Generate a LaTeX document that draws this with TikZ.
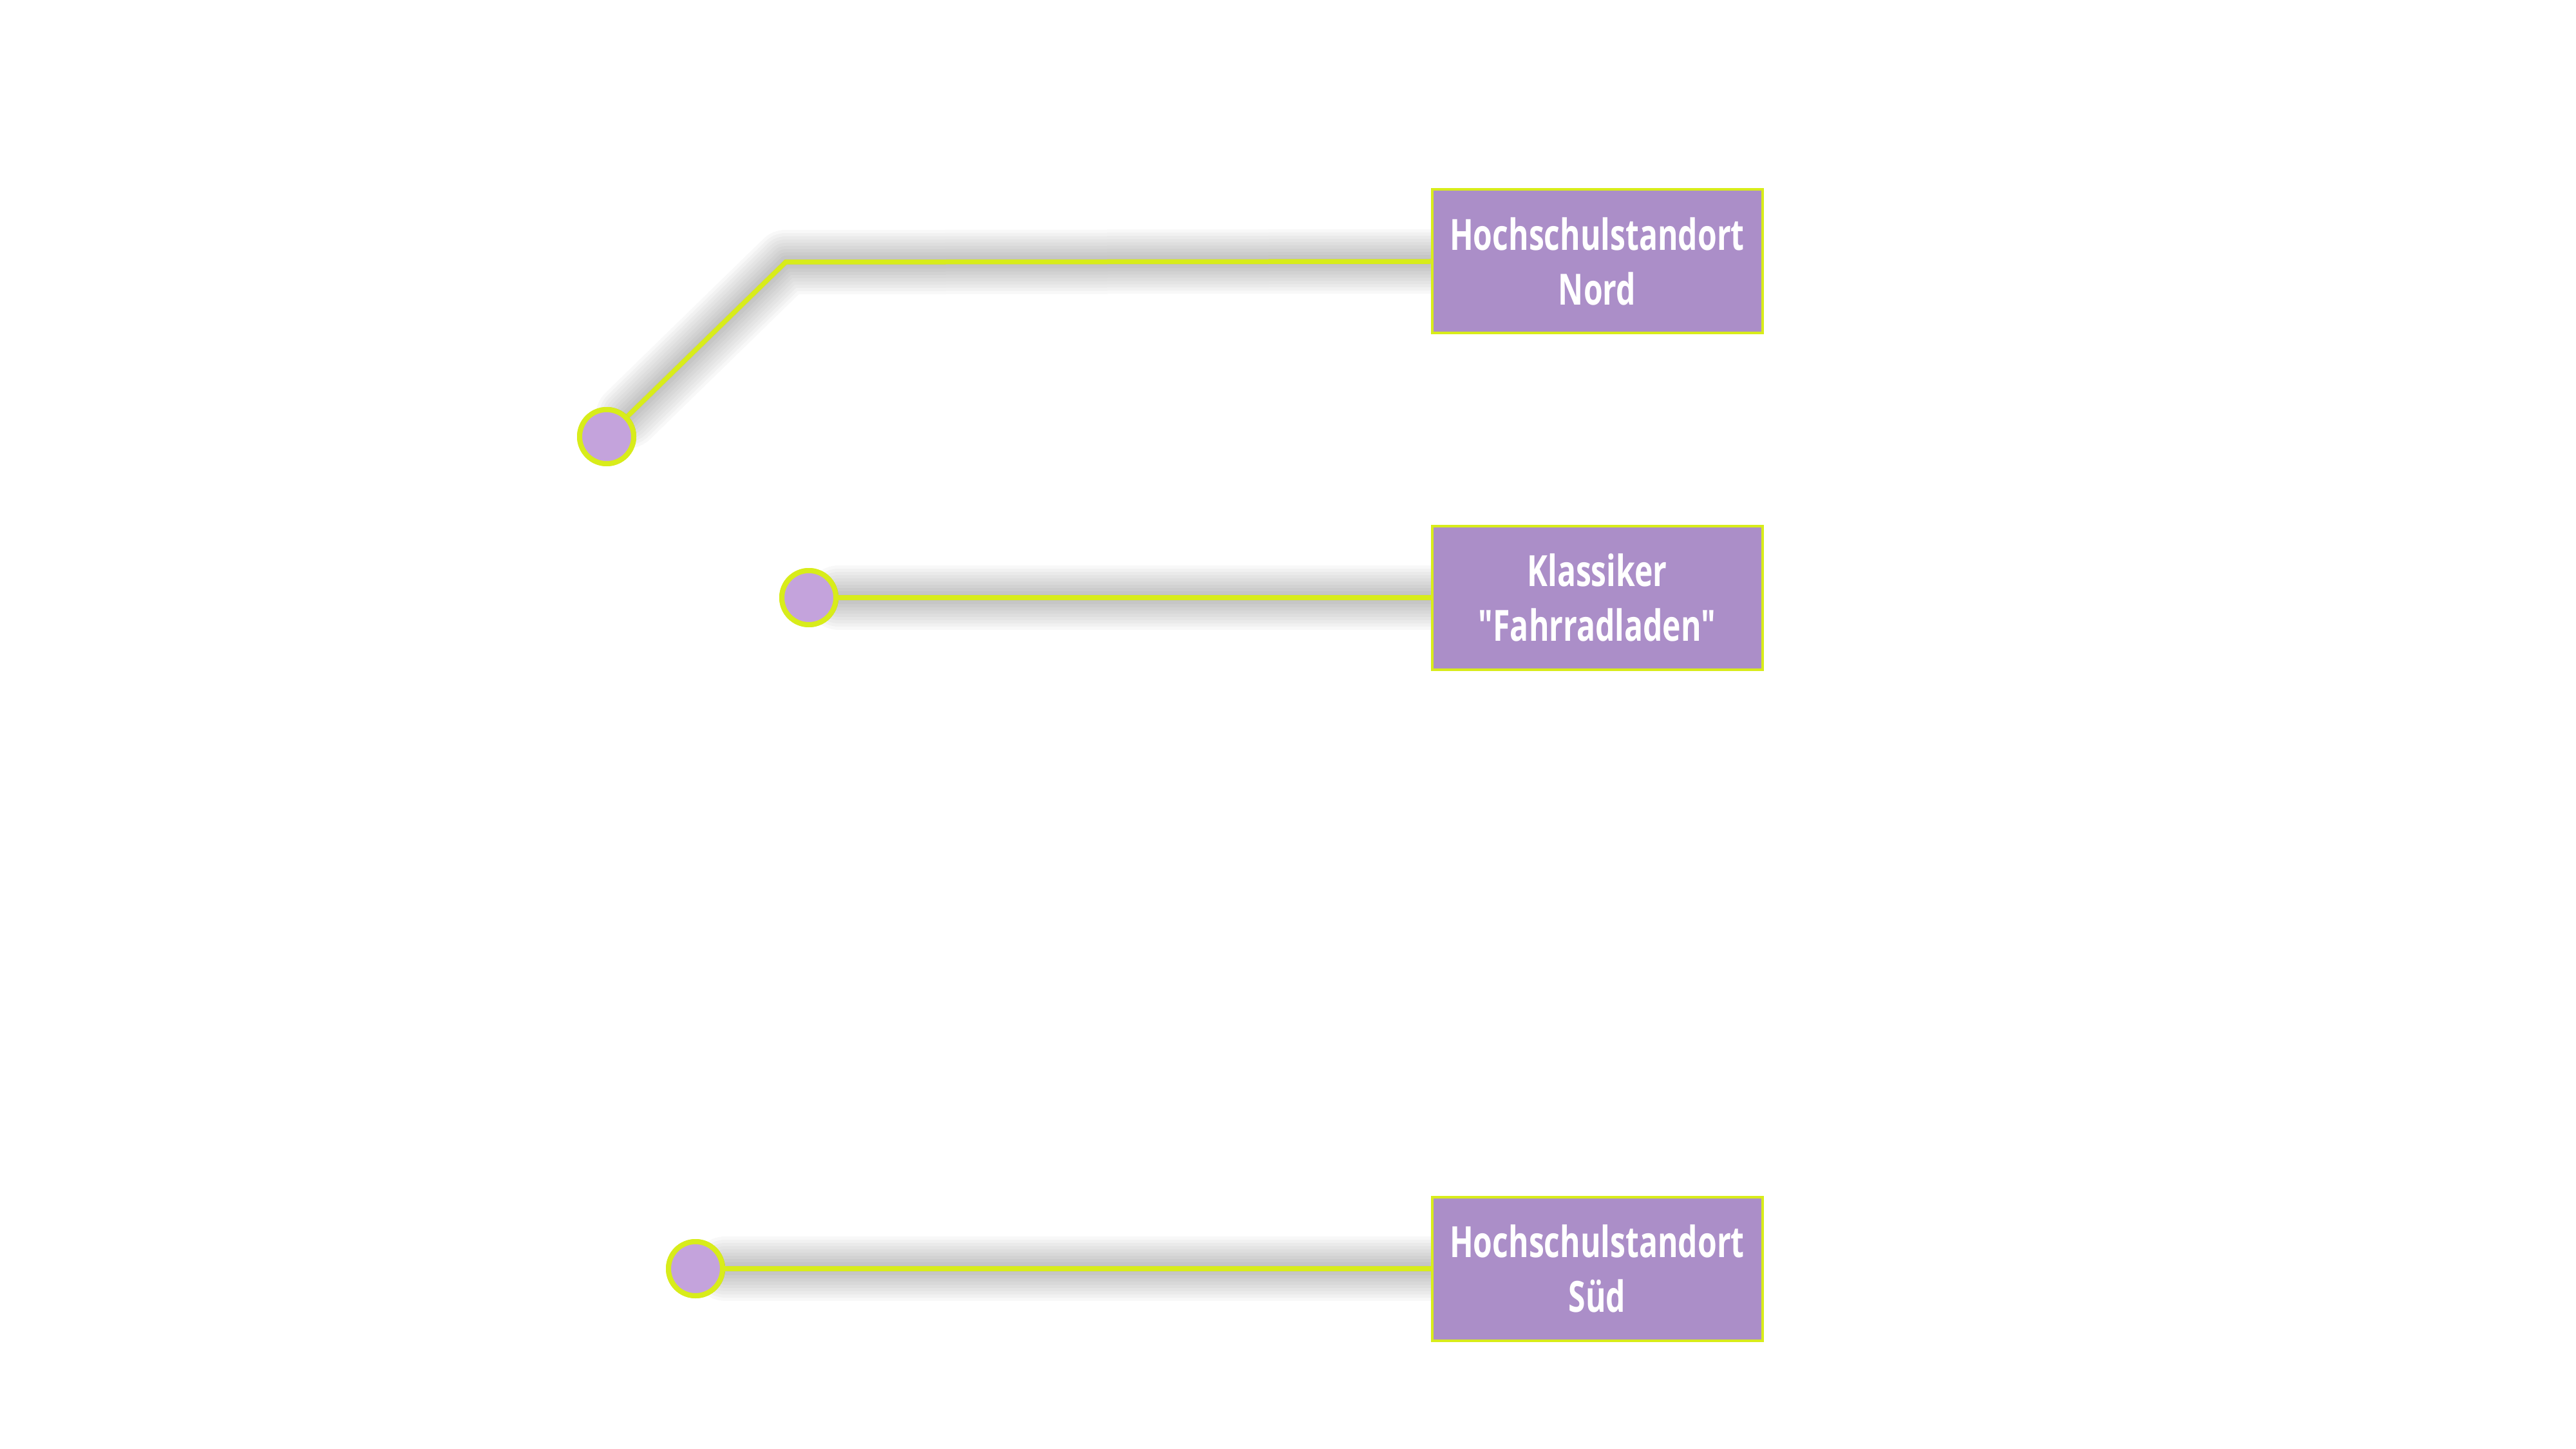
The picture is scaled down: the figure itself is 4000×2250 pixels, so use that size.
\documentclass[tikz,border=0pt]{standalone}
\usepackage{fontspec}
\newfontfamily\labelfont[FakeStretch=0.72]{Open Sans}
\usetikzlibrary{positioning}
\definecolor{lime}{RGB}{216,236,26}
\definecolor{boxlila}{RGB}{171,142,200}
\definecolor{dotlila}{RGB}{196,163,220}
\begin{document}
\begin{tikzpicture}[x=0.1mm,y=-0.1mm,
		labelbox/.style={draw=lime, line width=0.4mm, fill=boxlila, text=white,
			minimum width=51.3mm, minimum height=22.3mm, align=center,
			font=\labelfont\bfseries\fontsize{19}{24}\selectfont},
		marker/.style={circle, draw=lime, line width=0.8mm, fill=dotlila,
			minimum size=8.4mm, inner sep=0pt},
		leader/.style={draw=lime, line width=0.75mm},
		leadershadow/.style={line width=#1, black, opacity=0.026, line cap=round, line join=round}]
		\useasboundingbox (0,0) rectangle (4000,2250);
		% boxes
		\node[labelbox] (nord)  at (2480,406)  {Hochschulstandort\\Nord};
		\node[labelbox] (laden) at (2480,928)  {Klassiker\\"Fahrradladen"};
		\node[labelbox] (sued)  at (2480,1970) {Hochschulstandort\\Süd};
		% points
		\node[marker] (ptnord)  at (942,678)  {};
		\node[marker] (ptladen) at (1256,928) {};
		\node[marker] (ptsued)  at (1080,1970) {};
		\coordinate (knick) at (1220,407);
		% soft shadows under the leaders
		\begin{scope}[shift={(0,14)}]
			\foreach \w in {1,2,...,10}{
				\draw[leadershadow=\w mm] (ptnord) -- (knick) -- (nord.west);
				\draw[leadershadow=\w mm] (ptladen.east) -- (laden.west);
				\draw[leadershadow=\w mm] (ptsued.east) -- (sued.west);
			}
		\end{scope}
		% leaders
		\draw[leader] (ptnord) -- (knick) -- (nord.west);
		\draw[leader] (ptladen) -- (laden);
		\draw[leader] (ptsued) -- (sued);
		% redraw points and boxes on top
		\node[marker] at (ptnord) {};
		\node[marker] at (ptladen) {};
		\node[marker] at (ptsued) {};
		\node[labelbox] at (nord) {Hochschulstandort\\Nord};
		\node[labelbox] at (laden) {Klassiker\\"Fahrradladen"};
		\node[labelbox] at (sued) {Hochschulstandort\\Süd};
\end{tikzpicture}
\end{document}
